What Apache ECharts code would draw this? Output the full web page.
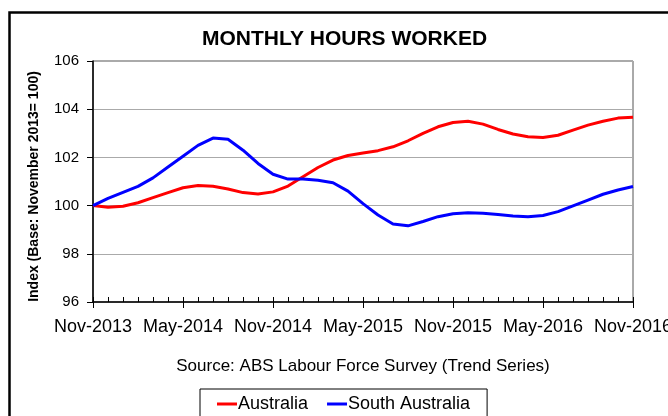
<!DOCTYPE html>
<html>
<head>
<meta charset="utf-8">
<script src="https://cdn.jsdelivr.net/npm/echarts@6/dist/echarts.min.js"></script>
<style>
  html, body { margin: 0; padding: 0; background: #fff; }
  #main { width: 668px; height: 416px; }
</style>
</head>
<body>
<div id="main"></div>
<script>
    // months, Nov-2013 .. Nov-2016
    var months = [
        'Nov-2013', 'Dec-2013', 'Jan-2014', 'Feb-2014', 'Mar-2014', 'Apr-2014',
        'May-2014', 'Jun-2014', 'Jul-2014', 'Aug-2014', 'Sep-2014', 'Oct-2014',
        'Nov-2014', 'Dec-2014', 'Jan-2015', 'Feb-2015', 'Mar-2015', 'Apr-2015',
        'May-2015', 'Jun-2015', 'Jul-2015', 'Aug-2015', 'Sep-2015', 'Oct-2015',
        'Nov-2015', 'Dec-2015', 'Jan-2016', 'Feb-2016', 'Mar-2016', 'Apr-2016',
        'May-2016', 'Jun-2016', 'Jul-2016', 'Aug-2016', 'Sep-2016', 'Oct-2016',
        'Nov-2016'
    ];

    var australia = [
        100.00, 99.93, 99.97, 100.12, 100.33, 100.54, 100.74, 100.83, 100.80, 100.69,
        100.54, 100.48, 100.57, 100.81, 101.20, 101.58, 101.89, 102.08, 102.18, 102.28,
        102.44, 102.69, 103.00, 103.27, 103.45, 103.50, 103.38, 103.16, 102.97, 102.86,
        102.83, 102.92, 103.13, 103.34, 103.50, 103.63, 103.67
    ];

    var southAustralia = [
        100.00, 100.30, 100.55, 100.80, 101.15, 101.60, 102.05, 102.50, 102.80, 102.75,
        102.30, 101.75, 101.30, 101.10, 101.10, 101.05, 100.95, 100.60, 100.08, 99.61,
        99.24, 99.16, 99.34, 99.54, 99.66, 99.70, 99.68, 99.63, 99.57, 99.54,
        99.59, 99.75, 99.99, 100.23, 100.47, 100.65, 100.79
    ];

    var yTicks = [96, 98, 100, 102, 104, 106];

    var font = "'Liberation Sans', Arial, sans-serif";

    var myChart = echarts.init(document.getElementById('main'));

    var option = {
        backgroundColor: '#fff',
        animation: false,
        textStyle: { fontFamily: font },
        title: {
            text: 'MONTHLY HOURS WORKED',
            left: 197,
            top: 24,
            textStyle: { fontSize: 21, fontWeight: 'bold', color: '#000', fontFamily: font }
        },
        legend: {
            left: 200,
            top: 389,
            padding: [6, 17, 14, 17],
            borderColor: '#000',
            borderWidth: 1,
            itemGap: 19,
            itemWidth: 20,
            itemHeight: 3,
            icon: 'rect',
            textStyle: { fontSize: 18, color: '#000', fontFamily: font, padding: [0, 0, 0, -4] },
            data: ['Australia', 'South Australia']
        },
        grid: {
            left: 93,
            top: 61,
            right: 35,
            bottom: 114,
            outerBoundsMode: 'none',
            containLabel: false,
            show: true,
            borderColor: '#555',
            borderWidth: 1
        },
        xAxis: [{
            type: 'category',
            data: months,
            boundaryGap: false,
            axisLine: { lineStyle: { color: '#000', width: 1.5 } },
            axisTick: { interval: 0, inside: true, length: 5, lineStyle: { color: '#000' } },
            axisLabel: { show: false },
            splitLine: { show: false }
        }, {
            type: 'category',
            data: months,
            boundaryGap: false,
            position: 'bottom',
            axisLine: { show: false },
            axisTick: { interval: 5, length: 6, lineStyle: { color: '#000' } },
            axisLabel: {
                interval: 5,
                margin: 16,
                fontSize: 18,
                color: '#000',
                fontFamily: font,
                showMaxLabel: true,
                hideOverlap: false
            },
            splitLine: { show: false }
        }],
        yAxis: {
            type: 'value',
            min: yTicks[0],
            max: yTicks[yTicks.length - 1],
            interval: 2,
            name: 'Index (Base: November 2013= 100)',
            nameLocation: 'middle',
            nameGap: 52,
            nameTextStyle: { fontSize: 14, fontWeight: 'bold', color: '#000', fontFamily: font, padding: [0, 10, 0, 0] },
            axisLine: { show: true, lineStyle: { color: '#000', width: 1.5 } },
            axisTick: { show: true, length: 6, lineStyle: { color: '#000' } },
            axisLabel: { fontSize: 15, color: '#000', margin: 14, fontFamily: font },
            splitLine: { show: true, lineStyle: { color: '#aaa', width: 1 } }
        },
        graphic: [{
            type: 'rect',
            shape: { x: 9.5, y: 12.5, width: 800, height: 600 },
            style: { fill: null, stroke: '#000', lineWidth: 2.5 },
            silent: true
        }, {
            type: 'text',
            x: 363,
            y: 366,
            style: {
                text: 'Source: ABS Labour Force Survey (Trend Series)',
                fontSize: 17,
                fontFamily: font,
                fill: '#000',
                textAlign: 'center',
                textVerticalAlign: 'middle'
            }
        }],
        series: [{
            name: 'Australia',
            type: 'line',
            data: australia,
            showSymbol: false,
            symbol: 'none',
            z: 3,
            lineStyle: { color: '#ff0000', width: 3 },
            itemStyle: { color: '#ff0000' }
        }, {
            name: 'South Australia',
            type: 'line',
            data: southAustralia,
            showSymbol: false,
            symbol: 'none',
            z: 4,
            lineStyle: { color: '#0000ff', width: 3 },
            itemStyle: { color: '#0000ff' }
        }]
    };

    myChart.setOption(option);
</script>
</body>
</html>
